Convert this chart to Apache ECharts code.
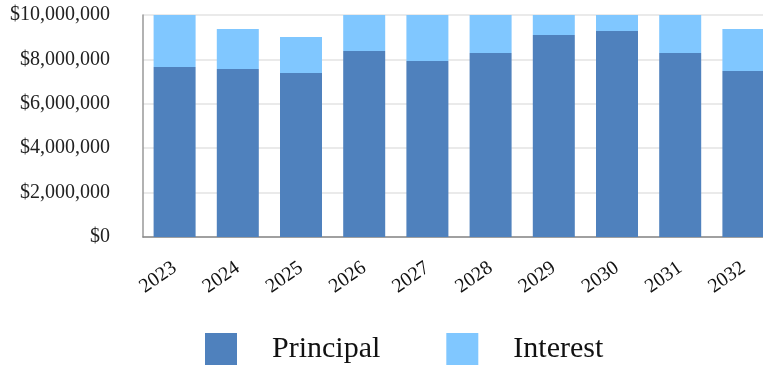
<!DOCTYPE html>
<html>
<head>
<meta charset="utf-8">
<script src="https://cdn.jsdelivr.net/npm/echarts@6/dist/echarts.min.js"></script>
<style>html,body{margin:0;padding:0;background:#fff;}#c{width:763px;height:369px;}</style>
</head>
<body>
<div id="c"></div>
<script>
const years = ['2023','2024','2025','2026','2027','2028','2029','2030','2031','2032'];
const principal = [7660000, 7570000, 7390000, 8380000, 7930000, 8290000, 9100000, 9280000, 8290000, 7480000];
const interest  = [2400000, 1800000, 1620000, 1900000, 2300000, 2000000, 1300000, 1100000, 2000000, 1890000];
const yTicks = [0, 2000000, 4000000, 6000000, 8000000, 10000000];

const FONT = '"Liberation Serif", "DejaVu Serif", serif';
const chart = echarts.init(document.getElementById('c'), null, {renderer: 'canvas'});
chart.setOption({
  animation: false,
  textStyle: {fontFamily: FONT},
  grid: {left: 143, width: 632, top: 15, height: 222, outerBoundsMode: 'none'},
  legend: {
    top: 333, left: 205, padding: 0,
    itemWidth: 32, itemHeight: 32, itemGap: 66,
    icon: 'rect',
    textStyle: {fontFamily: FONT, fontSize: 30, color: '#111', padding: [0, 0, 0, 30]},
    data: ['Principal', 'Interest']
  },
  xAxis: {
    type: 'category',
    data: years,
    axisLine: {lineStyle: {color: '#888', width: 1.5}},
    axisTick: {alignWithLabel: true, length: 8, lineStyle: {color: '#999', width: 1.5}},
    axisLabel: {rotate: 35, margin: 29, fontFamily: FONT, fontSize: 20, color: '#111', interval: 0}
  },
  yAxis: {
    type: 'value',
    min: yTicks[0], max: yTicks[yTicks.length - 1], interval: yTicks[1] - yTicks[0],
    axisLine: {show: true, lineStyle: {color: '#999', width: 1.5}},
    axisTick: {show: false},
    splitLine: {lineStyle: {color: '#e3e3e3', width: 1.5}},
    axisLabel: {
      margin: 33, fontFamily: FONT, fontSize: 20, color: '#222',
      formatter: v => '$' + v.toLocaleString('en-US')
    }
  },
  series: [
    {name: 'Principal', type: 'bar', stack: 'a', data: principal, barWidth: 42,
     itemStyle: {color: '#4f81bd'}},
    {name: 'Interest', type: 'bar', stack: 'a', data: interest, barWidth: 42,
     itemStyle: {color: '#80c7ff'}}
  ]
});
</script>
</body>
</html>
